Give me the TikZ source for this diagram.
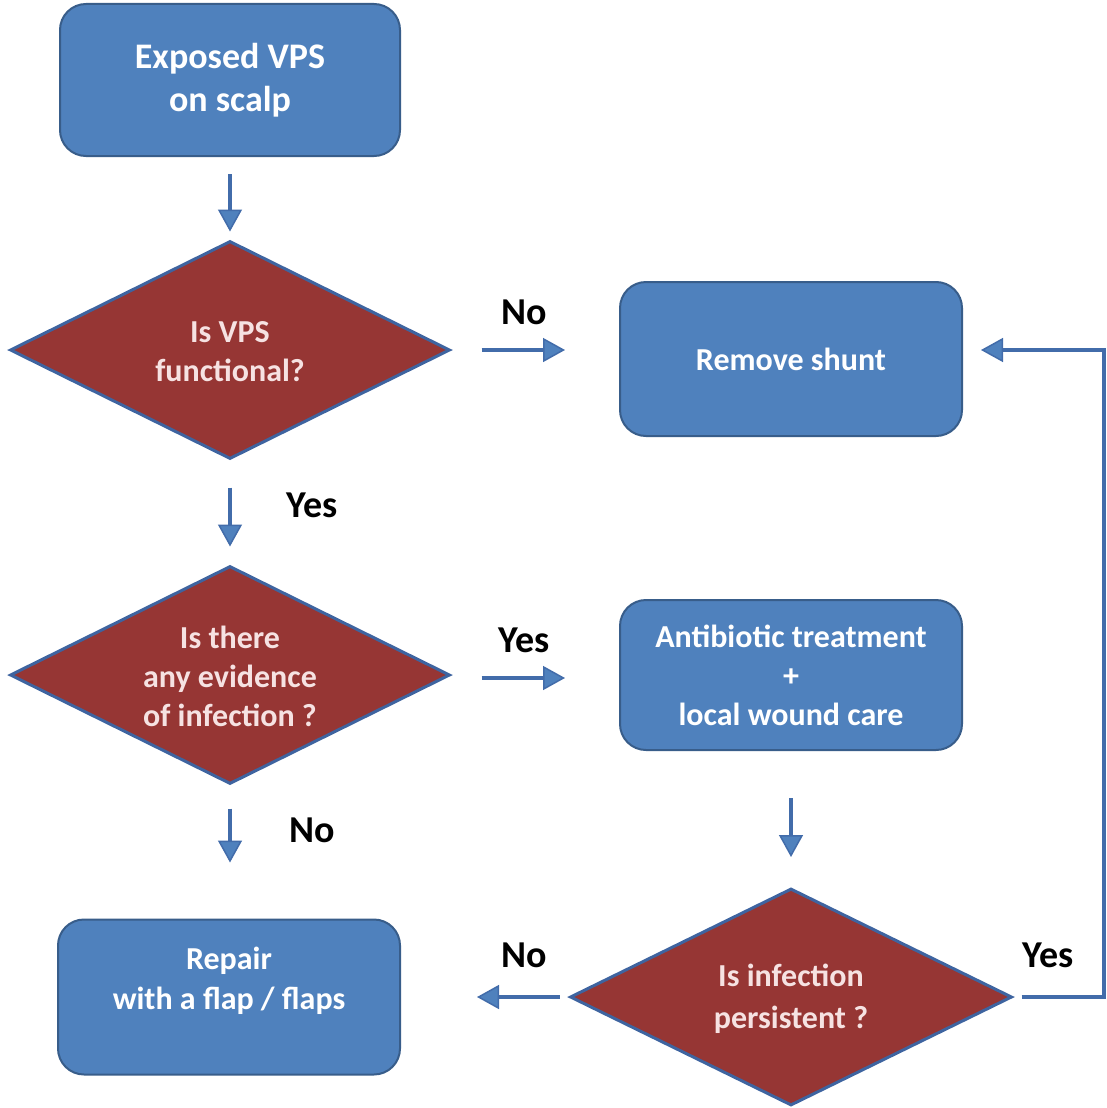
\documentclass[tikz,border=0pt]{standalone}
\usepackage{fontspec}
\setmainfont{Carlito}
\usetikzlibrary{shapes.geometric,arrows.meta}
\definecolor{boxfill}{RGB}{79,129,189}
\definecolor{boxline}{RGB}{56,93,138}
\definecolor{diafill}{RGB}{150,54,52}
\definecolor{dialine}{RGB}{62,100,160}
\definecolor{arrcol}{RGB}{66,108,170}
\definecolor{headfill}{RGB}{79,129,189}
\definecolor{dtextcol}{RGB}{246,226,226}
\tikzset{
  boxnode/.style={draw=boxline, fill=boxfill, line width=2pt, rounded corners=26pt,
    minimum width=340pt, minimum height=152pt, text=white, align=center,
    font=\fontsize{32}{39}\selectfont\bfseries},
  boxtext/.style={text=white, align=center, font=\fontsize{32}{40}\selectfont\bfseries},
  dia/.style={shape=diamond, draw=dialine, fill=diafill, line width=3pt,
    minimum width=440pt, minimum height=218pt, inner sep=0pt, aspect=2},
  dtext/.style={text=dtextcol, align=center, font=\fontsize{32}{39}\selectfont\bfseries},
  lbl/.style={text=black, font=\fontsize{38}{40}\selectfont\bfseries},
  arr/.style={draw=arrcol, line width=3.5pt,
    -{Triangle[width=24pt,length=22pt,fill=headfill,line width=1.5pt]}}
}
\begin{document}
\begin{tikzpicture}[x=1pt,y=-1pt]
\useasboundingbox[fill=white] (0,0) rectangle (1107,1108);
\node[boxnode, font=\fontsize{36}{43}\selectfont\bfseries] (top) at (230,80) {Exposed VPS\\on scalp};
\node[dia] (d1) at (230,350) {};
\node[dtext] (t1) at (230,352) {Is VPS\\functional?};
\node[boxnode, minimum width=342pt, minimum height=154pt] (shunt) at (791,359) {Remove shunt};
\node[dia] (d2) at (230,675) {};
\node[dtext] (t2) at (230,676) {Is there\\any evidence\\of infection ?};
\node[boxnode, minimum width=342pt, minimum height=150pt] (anti) at (791,675) {Antibiotic treatment\\+\\local wound care};
\node[boxnode, minimum width=342pt, minimum height=155pt] (repair) at (229,997) {};
\node[boxtext] (trepair) at (229,981) {Repair\\with a flap / flaps};
\node[dia, minimum width=442pt, minimum height=217pt] (d3) at (791,997) {};
\node[dtext, font=\fontsize{32}{42}\selectfont\bfseries] (t3) at (791,999) {Is infection\\persistent ?};
\coordinate (corner) at (1104,997);

\draw[arr, shorten <=17pt, shorten >=8pt] (top) -- (d1);
\draw[arr, shorten <=30pt, shorten >=54pt] (d1.east) -- (d1.east -| shunt.west);
\draw[arr, shorten <=27pt, shorten >=18pt] (d1) -- (d2);
\draw[arr, shorten <=30pt, shorten >=54pt] ([yshift=-3pt]d2.east) -- ([yshift=-3pt]d2.east -| anti.west);
\draw[arr, shorten <=23pt, shorten >=56pt] (d2) -- (d2 |- repair.north);
\draw[arr, shorten <=47pt, shorten >=30pt] (anti) -- (d3);
\draw[arr, shorten <=9pt, shorten >=76pt] (d3.west) -- (d3.west -| repair.east);
\draw[arr, line width=4.5pt, shorten <=8pt, shorten >=18pt] (d3.east) -- (corner) |- ([yshift=9pt]shunt.east);

\node[lbl] (l1) at (524,312) {No};
\node[lbl] (l2) at (312,505) {Yes};
\node[lbl] (l3) at (524,640) {Yes};
\node[lbl] (l4) at (312,830) {No};
\node[lbl] (l5) at (524,955) {No};
\node[lbl] (l6) at (1048,955) {Yes};
\end{tikzpicture}
\end{document}
